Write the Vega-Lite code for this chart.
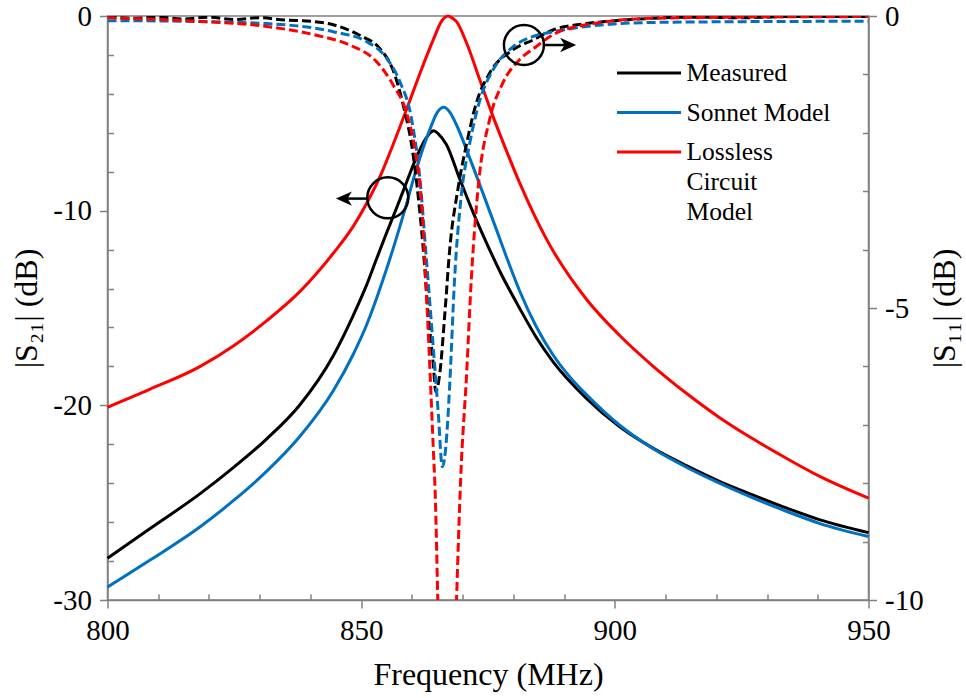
{
  "$schema": "https://vega.github.io/schema/vega-lite/v6.json",
  "width": 761,
  "height": 584,
  "autosize": {"type": "none"},
  "padding": {"left": 107.5, "top": 16, "right": 97.5, "bottom": 98},
  "background": "white",
  "config": {
    "font": "Liberation Serif",
    "view": {"stroke": "#808080", "strokeWidth": 1.5},
    "style": {"guide-label": {"font": "Liberation Serif"}, "guide-title": {"font": "Liberation Serif"}},
    "axis": {
      "domainColor": "#808080",
      "domainWidth": 1.5,
      "tickColor": "#808080",
      "tickWidth": 1.5,
      "grid": false,
      "labelFont": "Liberation Serif",
      "labelFontSize": 29,
      "labelColor": "#000000",
      "labelOverlap": false,
      "labelFlush": false,
      "titleFont": "Liberation Serif",
      "titleFontSize": 32,
      "titleFontWeight": "normal",
      "titleColor": "#000000"
    }
  },
  "datasets": {
    "curves": [
      {"s": "Measured", "p": "S21", "f": 800, "v": -27.85},
      {"s": "Measured", "p": "S21", "f": 808.4, "v": -26.33},
      {"s": "Measured", "p": "S21", "f": 818.2, "v": -24.55},
      {"s": "Measured", "p": "S21", "f": 824.8, "v": -23.2},
      {"s": "Measured", "p": "S21", "f": 831.4, "v": -21.72},
      {"s": "Measured", "p": "S21", "f": 837.9, "v": -19.98},
      {"s": "Measured", "p": "S21", "f": 844.5, "v": -17.45},
      {"s": "Measured", "p": "S21", "f": 848.4, "v": -15.4},
      {"s": "Measured", "p": "S21", "f": 851.1, "v": -13.8},
      {"s": "Measured", "p": "S21", "f": 853, "v": -12.5},
      {"s": "Measured", "p": "S21", "f": 855, "v": -11.15},
      {"s": "Measured", "p": "S21", "f": 857, "v": -9.85},
      {"s": "Measured", "p": "S21", "f": 859, "v": -8.5},
      {"s": "Measured", "p": "S21", "f": 861, "v": -7.2},
      {"s": "Measured", "p": "S21", "f": 862.5, "v": -6.4},
      {"s": "Measured", "p": "S21", "f": 863.6, "v": -6.0},
      {"s": "Measured", "p": "S21", "f": 864.3, "v": -5.9},
      {"s": "Measured", "p": "S21", "f": 865.2, "v": -6.05},
      {"s": "Measured", "p": "S21", "f": 866.8, "v": -6.6},
      {"s": "Measured", "p": "S21", "f": 869.4, "v": -8.35},
      {"s": "Measured", "p": "S21", "f": 872, "v": -10.05},
      {"s": "Measured", "p": "S21", "f": 874.7, "v": -11.65},
      {"s": "Measured", "p": "S21", "f": 877.5, "v": -13.2},
      {"s": "Measured", "p": "S21", "f": 881.2, "v": -15.0},
      {"s": "Measured", "p": "S21", "f": 884.5, "v": -16.5},
      {"s": "Measured", "p": "S21", "f": 887.8, "v": -17.75},
      {"s": "Measured", "p": "S21", "f": 894.4, "v": -19.64},
      {"s": "Measured", "p": "S21", "f": 900.9, "v": -21.09},
      {"s": "Measured", "p": "S21", "f": 907.5, "v": -22.2},
      {"s": "Measured", "p": "S21", "f": 914.1, "v": -23.1},
      {"s": "Measured", "p": "S21", "f": 920.6, "v": -23.9},
      {"s": "Measured", "p": "S21", "f": 927.2, "v": -24.6},
      {"s": "Measured", "p": "S21", "f": 933.8, "v": -25.27},
      {"s": "Measured", "p": "S21", "f": 940.3, "v": -25.87},
      {"s": "Measured", "p": "S21", "f": 950, "v": -26.54},

      {"s": "Sonnet Model", "p": "S21", "f": 800, "v": -29.34},
      {"s": "Sonnet Model", "p": "S21", "f": 808.4, "v": -27.95},
      {"s": "Sonnet Model", "p": "S21", "f": 818.2, "v": -26.25},
      {"s": "Sonnet Model", "p": "S21", "f": 824.8, "v": -24.9},
      {"s": "Sonnet Model", "p": "S21", "f": 831.4, "v": -23.38},
      {"s": "Sonnet Model", "p": "S21", "f": 837.9, "v": -21.6},
      {"s": "Sonnet Model", "p": "S21", "f": 844.5, "v": -19.25},
      {"s": "Sonnet Model", "p": "S21", "f": 848.4, "v": -17.4},
      {"s": "Sonnet Model", "p": "S21", "f": 851.1, "v": -15.85},
      {"s": "Sonnet Model", "p": "S21", "f": 854.3, "v": -13.55},
      {"s": "Sonnet Model", "p": "S21", "f": 856.3, "v": -11.95},
      {"s": "Sonnet Model", "p": "S21", "f": 858.6, "v": -9.96},
      {"s": "Sonnet Model", "p": "S21", "f": 860.9, "v": -7.85},
      {"s": "Sonnet Model", "p": "S21", "f": 863.5, "v": -5.86},
      {"s": "Sonnet Model", "p": "S21", "f": 865, "v": -4.95},
      {"s": "Sonnet Model", "p": "S21", "f": 866.3, "v": -4.69},
      {"s": "Sonnet Model", "p": "S21", "f": 867.5, "v": -4.95},
      {"s": "Sonnet Model", "p": "S21", "f": 868.8, "v": -5.6},
      {"s": "Sonnet Model", "p": "S21", "f": 871.4, "v": -7.3},
      {"s": "Sonnet Model", "p": "S21", "f": 874, "v": -9.1},
      {"s": "Sonnet Model", "p": "S21", "f": 876.7, "v": -11.0},
      {"s": "Sonnet Model", "p": "S21", "f": 878.6, "v": -12.35},
      {"s": "Sonnet Model", "p": "S21", "f": 881.2, "v": -14.1},
      {"s": "Sonnet Model", "p": "S21", "f": 884.5, "v": -15.95},
      {"s": "Sonnet Model", "p": "S21", "f": 887.8, "v": -17.4},
      {"s": "Sonnet Model", "p": "S21", "f": 891, "v": -18.5},
      {"s": "Sonnet Model", "p": "S21", "f": 894.4, "v": -19.45},
      {"s": "Sonnet Model", "p": "S21", "f": 900.9, "v": -21.01},
      {"s": "Sonnet Model", "p": "S21", "f": 907.5, "v": -22.22},
      {"s": "Sonnet Model", "p": "S21", "f": 914.1, "v": -23.18},
      {"s": "Sonnet Model", "p": "S21", "f": 920.6, "v": -24.0},
      {"s": "Sonnet Model", "p": "S21", "f": 927.2, "v": -24.75},
      {"s": "Sonnet Model", "p": "S21", "f": 933.8, "v": -25.44},
      {"s": "Sonnet Model", "p": "S21", "f": 940.3, "v": -26.06},
      {"s": "Sonnet Model", "p": "S21", "f": 950, "v": -26.74},

      {"s": "Lossless Circuit Model", "p": "S21", "f": 800, "v": -20.1},
      {"s": "Lossless Circuit Model", "p": "S21", "f": 808.4, "v": -19.17},
      {"s": "Lossless Circuit Model", "p": "S21", "f": 818.2, "v": -18.01},
      {"s": "Lossless Circuit Model", "p": "S21", "f": 824.8, "v": -16.95},
      {"s": "Lossless Circuit Model", "p": "S21", "f": 831.4, "v": -15.65},
      {"s": "Lossless Circuit Model", "p": "S21", "f": 837.9, "v": -14.16},
      {"s": "Lossless Circuit Model", "p": "S21", "f": 844.5, "v": -12.19},
      {"s": "Lossless Circuit Model", "p": "S21", "f": 848.4, "v": -10.82},
      {"s": "Lossless Circuit Model", "p": "S21", "f": 851.1, "v": -9.62},
      {"s": "Lossless Circuit Model", "p": "S21", "f": 854, "v": -8.08},
      {"s": "Lossless Circuit Model", "p": "S21", "f": 856.3, "v": -6.6},
      {"s": "Lossless Circuit Model", "p": "S21", "f": 858.9, "v": -4.83},
      {"s": "Lossless Circuit Model", "p": "S21", "f": 861.6, "v": -2.94},
      {"s": "Lossless Circuit Model", "p": "S21", "f": 864.2, "v": -1.23},
      {"s": "Lossless Circuit Model", "p": "S21", "f": 865.8, "v": -0.29},
      {"s": "Lossless Circuit Model", "p": "S21", "f": 866.5, "v": -0.07},
      {"s": "Lossless Circuit Model", "p": "S21", "f": 867.1, "v": 0},
      {"s": "Lossless Circuit Model", "p": "S21", "f": 867.8, "v": -0.08},
      {"s": "Lossless Circuit Model", "p": "S21", "f": 868.8, "v": -0.29},
      {"s": "Lossless Circuit Model", "p": "S21", "f": 870.8, "v": -1.4},
      {"s": "Lossless Circuit Model", "p": "S21", "f": 873.4, "v": -3.29},
      {"s": "Lossless Circuit Model", "p": "S21", "f": 876, "v": -5.17},
      {"s": "Lossless Circuit Model", "p": "S21", "f": 878.6, "v": -6.9},
      {"s": "Lossless Circuit Model", "p": "S21", "f": 881.2, "v": -8.55},
      {"s": "Lossless Circuit Model", "p": "S21", "f": 886.5, "v": -11.45},
      {"s": "Lossless Circuit Model", "p": "S21", "f": 894.4, "v": -14.55},
      {"s": "Lossless Circuit Model", "p": "S21", "f": 900.9, "v": -16.4},
      {"s": "Lossless Circuit Model", "p": "S21", "f": 907.5, "v": -17.98},
      {"s": "Lossless Circuit Model", "p": "S21", "f": 914.1, "v": -19.38},
      {"s": "Lossless Circuit Model", "p": "S21", "f": 920.6, "v": -20.62},
      {"s": "Lossless Circuit Model", "p": "S21", "f": 927.2, "v": -21.72},
      {"s": "Lossless Circuit Model", "p": "S21", "f": 933.8, "v": -22.72},
      {"s": "Lossless Circuit Model", "p": "S21", "f": 940.3, "v": -23.64},
      {"s": "Lossless Circuit Model", "p": "S21", "f": 950, "v": -24.77},

      {"s": "Measured", "p": "S11", "f": 800, "v": -0.01},
      {"s": "Measured", "p": "S11", "f": 805, "v": -0.04},
      {"s": "Measured", "p": "S11", "f": 810, "v": -0.02},
      {"s": "Measured", "p": "S11", "f": 815, "v": -0.05},
      {"s": "Measured", "p": "S11", "f": 820, "v": -0.02},
      {"s": "Measured", "p": "S11", "f": 825, "v": -0.06},
      {"s": "Measured", "p": "S11", "f": 830, "v": -0.03},
      {"s": "Measured", "p": "S11", "f": 835, "v": -0.07},
      {"s": "Measured", "p": "S11", "f": 840, "v": -0.09},
      {"s": "Measured", "p": "S11", "f": 844.5, "v": -0.15},
      {"s": "Measured", "p": "S11", "f": 849.7, "v": -0.33},
      {"s": "Measured", "p": "S11", "f": 853.7, "v": -0.56},
      {"s": "Measured", "p": "S11", "f": 856.3, "v": -0.93},
      {"s": "Measured", "p": "S11", "f": 858.3, "v": -1.53},
      {"s": "Measured", "p": "S11", "f": 860.2, "v": -2.35},
      {"s": "Measured", "p": "S11", "f": 861, "v": -2.9},
      {"s": "Measured", "p": "S11", "f": 862.2, "v": -3.95},
      {"s": "Measured", "p": "S11", "f": 863.2, "v": -5.09},
      {"s": "Measured", "p": "S11", "f": 864.2, "v": -5.95},
      {"s": "Measured", "p": "S11", "f": 864.7, "v": -6.43},
      {"s": "Measured", "p": "S11", "f": 865.5, "v": -6.12},
      {"s": "Measured", "p": "S11", "f": 866.5, "v": -5.09},
      {"s": "Measured", "p": "S11", "f": 867.5, "v": -3.95},
      {"s": "Measured", "p": "S11", "f": 869, "v": -3.0},
      {"s": "Measured", "p": "S11", "f": 870.8, "v": -2.18},
      {"s": "Measured", "p": "S11", "f": 872.7, "v": -1.49},
      {"s": "Measured", "p": "S11", "f": 875.3, "v": -0.98},
      {"s": "Measured", "p": "S11", "f": 879.9, "v": -0.58},
      {"s": "Measured", "p": "S11", "f": 883.9, "v": -0.41},
      {"s": "Measured", "p": "S11", "f": 887.8, "v": -0.24},
      {"s": "Measured", "p": "S11", "f": 894.4, "v": -0.13},
      {"s": "Measured", "p": "S11", "f": 900, "v": -0.08},
      {"s": "Measured", "p": "S11", "f": 907.5, "v": -0.04},
      {"s": "Measured", "p": "S11", "f": 915, "v": -0.02},
      {"s": "Measured", "p": "S11", "f": 925, "v": -0.03},
      {"s": "Measured", "p": "S11", "f": 935, "v": -0.01},
      {"s": "Measured", "p": "S11", "f": 950, "v": -0.01},

      {"s": "Sonnet Model", "p": "S11", "f": 800, "v": -0.08},
      {"s": "Sonnet Model", "p": "S11", "f": 815, "v": -0.09},
      {"s": "Sonnet Model", "p": "S11", "f": 831.4, "v": -0.13},
      {"s": "Sonnet Model", "p": "S11", "f": 844.5, "v": -0.27},
      {"s": "Sonnet Model", "p": "S11", "f": 851.1, "v": -0.44},
      {"s": "Sonnet Model", "p": "S11", "f": 855, "v": -0.72},
      {"s": "Sonnet Model", "p": "S11", "f": 857.6, "v": -1.12},
      {"s": "Sonnet Model", "p": "S11", "f": 859.9, "v": -1.75},
      {"s": "Sonnet Model", "p": "S11", "f": 861.6, "v": -2.81},
      {"s": "Sonnet Model", "p": "S11", "f": 862.8, "v": -4.1},
      {"s": "Sonnet Model", "p": "S11", "f": 864.2, "v": -5.66},
      {"s": "Sonnet Model", "p": "S11", "f": 865.2, "v": -6.8},
      {"s": "Sonnet Model", "p": "S11", "f": 866, "v": -7.72},
      {"s": "Sonnet Model", "p": "S11", "f": 866.8, "v": -7.26},
      {"s": "Sonnet Model", "p": "S11", "f": 867.5, "v": -6.23},
      {"s": "Sonnet Model", "p": "S11", "f": 868.4, "v": -4.52},
      {"s": "Sonnet Model", "p": "S11", "f": 869.7, "v": -3.1},
      {"s": "Sonnet Model", "p": "S11", "f": 871.4, "v": -2.18},
      {"s": "Sonnet Model", "p": "S11", "f": 873.4, "v": -1.44},
      {"s": "Sonnet Model", "p": "S11", "f": 876, "v": -0.92},
      {"s": "Sonnet Model", "p": "S11", "f": 879.9, "v": -0.53},
      {"s": "Sonnet Model", "p": "S11", "f": 883.9, "v": -0.35},
      {"s": "Sonnet Model", "p": "S11", "f": 887.8, "v": -0.27},
      {"s": "Sonnet Model", "p": "S11", "f": 894.4, "v": -0.18},
      {"s": "Sonnet Model", "p": "S11", "f": 907.5, "v": -0.11},
      {"s": "Sonnet Model", "p": "S11", "f": 920, "v": -0.1},
      {"s": "Sonnet Model", "p": "S11", "f": 950, "v": -0.09},

      {"s": "Lossless Circuit Model", "p": "S11", "f": 800, "v": -0.03},
      {"s": "Lossless Circuit Model", "p": "S11", "f": 815, "v": -0.08},
      {"s": "Lossless Circuit Model", "p": "S11", "f": 831.4, "v": -0.18},
      {"s": "Lossless Circuit Model", "p": "S11", "f": 841.2, "v": -0.33},
      {"s": "Lossless Circuit Model", "p": "S11", "f": 847.8, "v": -0.5},
      {"s": "Lossless Circuit Model", "p": "S11", "f": 853, "v": -0.78},
      {"s": "Lossless Circuit Model", "p": "S11", "f": 856.3, "v": -1.18},
      {"s": "Lossless Circuit Model", "p": "S11", "f": 858.9, "v": -1.65},
      {"s": "Lossless Circuit Model", "p": "S11", "f": 860.6, "v": -2.29},
      {"s": "Lossless Circuit Model", "p": "S11", "f": 861.9, "v": -3.2},
      {"s": "Lossless Circuit Model", "p": "S11", "f": 863, "v": -5.0},
      {"s": "Lossless Circuit Model", "p": "S11", "f": 864.2, "v": -7.37},
      {"s": "Lossless Circuit Model", "p": "S11", "f": 864.6, "v": -8.2},
      {"s": "Lossless Circuit Model", "p": "S11", "f": 865.1, "v": -10},
      {"s": "Lossless Circuit Model", "p": "S11", "f": 865.7, "v": -12.5},
      {"s": "Lossless Circuit Model", "p": "S11", "f": 866.3, "v": -16},
      {"s": "Lossless Circuit Model", "p": "S11", "f": 866.9, "v": -22},
      {"s": "Lossless Circuit Model", "p": "S11", "f": 867.4, "v": -16},
      {"s": "Lossless Circuit Model", "p": "S11", "f": 868, "v": -12.5},
      {"s": "Lossless Circuit Model", "p": "S11", "f": 868.8, "v": -10},
      {"s": "Lossless Circuit Model", "p": "S11", "f": 869.6, "v": -7.95},
      {"s": "Lossless Circuit Model", "p": "S11", "f": 870.8, "v": -6.1},
      {"s": "Lossless Circuit Model", "p": "S11", "f": 871.7, "v": -4.52},
      {"s": "Lossless Circuit Model", "p": "S11", "f": 873.1, "v": -2.9},
      {"s": "Lossless Circuit Model", "p": "S11", "f": 875.3, "v": -1.78},
      {"s": "Lossless Circuit Model", "p": "S11", "f": 877.9, "v": -1.15},
      {"s": "Lossless Circuit Model", "p": "S11", "f": 881.2, "v": -0.75},
      {"s": "Lossless Circuit Model", "p": "S11", "f": 884.4, "v": -0.53},
      {"s": "Lossless Circuit Model", "p": "S11", "f": 887.8, "v": -0.32},
      {"s": "Lossless Circuit Model", "p": "S11", "f": 894.4, "v": -0.15},
      {"s": "Lossless Circuit Model", "p": "S11", "f": 907.5, "v": -0.04},
      {"s": "Lossless Circuit Model", "p": "S11", "f": 925, "v": -0.02},
      {"s": "Lossless Circuit Model", "p": "S11", "f": 950, "v": -0.01}
    ],
    "callouts": [
      {"p": "S21", "part": "ring", "f": 855.25, "v": -9.34},
      {"p": "S21", "part": "shaft", "f": 851.2, "f2": 847.2, "v": -9.38},
      {"p": "S21", "part": "head", "f": 846.6, "v": -9.38},
      {"p": "S11", "part": "ring", "f": 882.08, "v": -0.497},
      {"p": "S11", "part": "shaft", "f": 886.0, "f2": 890.6, "v": -0.497},
      {"p": "S11", "part": "head", "f": 890.8, "v": -0.497}
    ]
  },
  "encoding": {
    "x": {
      "field": "f",
      "type": "quantitative",
      "scale": {"domain": [800, 950], "nice": false, "zero": false},
      "axis": {
        "title": "Frequency (MHz)",
        "values": [800, 810, 820, 830, 840, 850, 860, 870, 880, 890, 900, 910, 920, 930, 940, 950],
        "labelExpr": "datum.value % 50 === 0 ? datum.label : ''",
        "labelFont": "Liberation Serif",
        "tickSize": {"condition": {"test": "datum.value % 50 === 0", "value": 8}, "value": -6},
        "labelPadding": 8,
        "titlePadding": 14,
        "encode": {"labels": {"update": {"font": {"value": "Liberation Serif"}}}}
      }
    }
  },
  "layer": [
    {
      "encoding": {
        "y": {
          "field": "v",
          "type": "quantitative",
          "scale": {"domain": [-30, 0], "nice": false, "zero": false},
          "axis": {
            "orient": "left",
            "title": "|S₂₁| (dB)",
            "values": [0, -2, -4, -6, -8, -10, -12, -14, -16, -18, -20, -22, -24, -26, -28, -30],
            "labelExpr": "datum.value % 10 === 0 ? '' + datum.value : ''",
            "labelFont": "Liberation Serif",
            "tickSize": {"condition": {"test": "datum.value % 10 === 0", "value": 8}, "value": -6},
            "labelPadding": 8,
            "titlePadding": 9,
            "encode": {"labels": {"update": {"font": {"value": "Liberation Serif"}}}}
          }
        }
      },
      "layer": [
        {
          "data": {"name": "curves"},
          "transform": [{"filter": "datum.p === 'S21'"}],
          "mark": {"type": "line", "strokeWidth": 3, "interpolate": "monotone"},
          "encoding": {
            "color": {
              "field": "s",
              "type": "nominal",
              "scale": {"domain": ["Measured", "Sonnet Model", "Lossless Circuit Model"], "range": ["#000000", "#0070C0", "#FF0000"]},
              "legend": {
                "orient": "none",
                "legendX": 508,
                "legendY": 39,
                "title": null,
                "padding": 0,
                "symbolType": "stroke",
                "symbolSize": 4096,
                "symbolStrokeWidth": 3,
                "clipHeight": 36,
                "rowPadding": 3.5,
                "labelFont": "Liberation Serif",
                "labelFontSize": 25.5,
                "labelColor": "#000000",
                "labelLimit": 400,
                "labelOffset": 4,
                "labelExpr": "datum.label === 'Lossless Circuit Model' ? ['Lossless', 'Circuit', 'Model'] : datum.label",
                "encode": {"labels": {"update": {"lineHeight": {"value": 30}}}}
              }
            },
            "detail": {"field": "s"}
          }
        },
        {
          "data": {"name": "callouts"},
          "transform": [{"filter": "datum.p === 'S21' && datum.part === 'ring'"}],
          "mark": {"type": "point", "shape": "circle", "filled": false, "stroke": "#000000", "strokeWidth": 2.5, "size": 1681, "opacity": 1}
        },
        {
          "data": {"name": "callouts"},
          "transform": [{"filter": "datum.p === 'S21' && datum.part === 'shaft'"}],
          "mark": {"type": "rule", "stroke": "#000000", "strokeWidth": 2.5},
          "encoding": {"x2": {"field": "f2"}}
        },
        {
          "data": {"name": "callouts"},
          "transform": [{"filter": "datum.p === 'S21' && datum.part === 'head'"}],
          "mark": {"type": "point", "shape": "M-1,0L1,-0.9L0.45,0L1,0.9Z", "filled": true, "fill": "#000000", "strokeWidth": 0, "size": 256, "opacity": 1}
        }
      ]
    },
    {
      "encoding": {
        "y": {
          "field": "v",
          "type": "quantitative",
          "scale": {"domain": [-10, 0], "nice": false, "zero": false},
          "axis": {
            "orient": "right",
            "title": "|S₁₁| (dB)",
            "titleAngle": 270,
            "titleBaseline": "top",
            "values": [0, -1, -2, -3, -4, -5, -6, -7, -8, -9, -10],
            "labelExpr": "datum.value % 5 === 0 ? '' + datum.value : ''",
            "labelFont": "Liberation Serif",
            "tickSize": {"condition": {"test": "datum.value % 5 === 0", "value": 8}, "value": -6},
            "labelPadding": 8,
            "titlePadding": 6,
            "encode": {"labels": {"update": {"font": {"value": "Liberation Serif"}}}}
          }
        }
      },
      "layer": [
        {
          "data": {"name": "curves"},
          "transform": [{"filter": "datum.p === 'S11'"}],
          "mark": {"type": "line", "strokeWidth": 3, "strokeDash": [9, 4], "interpolate": "monotone", "clip": true},
          "encoding": {
            "color": {"field": "s", "type": "nominal", "legend": null},
            "detail": {"field": "s"}
          }
        },
        {
          "data": {"name": "callouts"},
          "transform": [{"filter": "datum.p === 'S11' && datum.part === 'ring'"}],
          "mark": {"type": "point", "shape": "circle", "filled": false, "stroke": "#000000", "strokeWidth": 2.5, "size": 1600, "opacity": 1}
        },
        {
          "data": {"name": "callouts"},
          "transform": [{"filter": "datum.p === 'S11' && datum.part === 'shaft'"}],
          "mark": {"type": "rule", "stroke": "#000000", "strokeWidth": 2.5},
          "encoding": {"x2": {"field": "f2"}}
        },
        {
          "data": {"name": "callouts"},
          "transform": [{"filter": "datum.p === 'S11' && datum.part === 'head'"}],
          "mark": {"type": "point", "shape": "M1,0L-1,-0.9L-0.45,0L-1,0.9Z", "filled": true, "fill": "#000000", "strokeWidth": 0, "size": 256, "opacity": 1}
        }
      ]
    }
  ],
  "resolve": {"scale": {"y": "independent"}}
}
